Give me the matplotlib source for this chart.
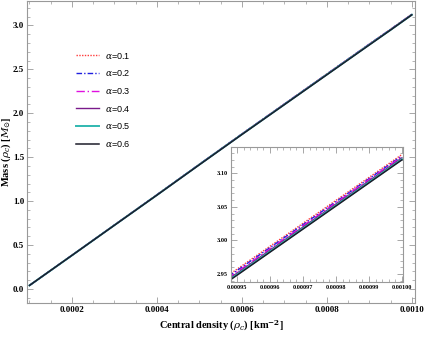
import matplotlib
matplotlib.use("Agg")
import matplotlib.pyplot as plt
from matplotlib.ticker import MultipleLocator, AutoMinorLocator, FormatStrFormatter

# central density [km^-2]
density = [0.0001, 0.0002, 0.0003, 0.0004, 0.0005, 0.0006, 0.0007,
           0.0008, 0.0009, 0.00095, 0.001]

# mass [M_sun] for each alpha
mass_a01 = [0.040, 0.384, 0.729, 1.073, 1.420, 1.765, 2.107, 2.448, 2.789, 2.957, 3.128]
mass_a02 = [0.040, 0.383, 0.728, 1.072, 1.419, 1.764, 2.105, 2.446, 2.787, 2.955, 3.126]
mass_a03 = [0.040, 0.383, 0.727, 1.071, 1.418, 1.763, 2.104, 2.445, 2.785, 2.953, 3.125]
mass_a04 = [0.040, 0.383, 0.727, 1.070, 1.417, 1.761, 2.102, 2.443, 2.783, 2.951, 3.123]
mass_a05 = [0.040, 0.382, 0.726, 1.069, 1.416, 1.760, 2.100, 2.441, 2.781, 2.949, 3.121]
mass_a06 = [0.040, 0.382, 0.725, 1.068, 1.414, 1.758, 2.098, 2.438, 2.778, 2.948, 3.120]

labels = [r"$\alpha$=0.1", r"$\alpha$=0.2", r"$\alpha$=0.3",
          r"$\alpha$=0.4", r"$\alpha$=0.5", r"$\alpha$=0.6"]
series = [mass_a01, mass_a02, mass_a03, mass_a04, mass_a05, mass_a06]
styles = [
    dict(color="#ff3b3b", ls=(0, (1, 1)), lw=1.0),
    dict(color="#1f1fe0", ls=(0, (4, 1.5, 1, 1.5)), lw=1.0),
    dict(color="#e010e0", ls=(0, (6, 2, 1, 2)), lw=1.0),
    dict(color="#7a1a8a", ls="-", lw=1.0),
    dict(color="#30b8b0", ls="-", lw=1.4),
    dict(color="#1c1c2a", ls="-", lw=1.1),
]

plt.rcParams["mathtext.fontset"] = "dejavuserif"
serif = "Liberation Serif"
frame = "#999999"

fig = plt.figure(figsize=(4.25, 3.38), dpi=100)
ax = fig.add_axes([0.0635, 0.1036, 0.9125, 0.894])

for m, lab, st in zip(series, labels, styles):
    ax.plot(density, m, label=lab, **st)

ax.set_xlim(0.0000941, 0.001007)
ax.set_ylim(-0.16, 3.28)
ax.xaxis.set_major_locator(MultipleLocator(0.0002))
ax.xaxis.set_minor_locator(AutoMinorLocator(4))
ax.yaxis.set_major_locator(MultipleLocator(0.5))
ax.yaxis.set_minor_locator(AutoMinorLocator(5))
ax.xaxis.set_major_formatter(FormatStrFormatter("%.4f"))
ax.yaxis.set_major_formatter(FormatStrFormatter("%.1f"))


def style_axes(a, size):
    for sp in a.spines.values():
        sp.set_color(frame)
        sp.set_linewidth(0.8)
    a.tick_params(which="both", direction="in", top=True, right=True,
                  color=frame, labelsize=size, pad=2)
    a.tick_params(which="major", length=4, width=0.6)
    a.tick_params(which="minor", length=2, width=0.5)
    for t in a.get_xticklabels() + a.get_yticklabels():
        t.set_fontfamily(serif)
        t.set_fontweight("bold")


style_axes(ax, 6.5)

ax.set_xlabel(r"Central density ($\rho_c$) [km$^{\mathbf{-2}}$]",
              fontfamily=serif, fontweight="bold", fontsize=7.5, labelpad=4)
ax.set_ylabel(r"Mass ($\rho_c$) [$M_{\odot}$]",
              fontfamily=serif, fontweight="bold", fontsize=7.5)
ax.yaxis.set_label_coords(-0.037, 0.5)

leg = ax.legend(loc="upper left", bbox_to_anchor=(0.105, 0.862), frameon=False,
                handlelength=2.6, labelspacing=0.85, handletextpad=0.6,
                prop={"family": "Liberation Sans", "size": 6.5})

# inset
ins = fig.add_axes([0.5435, 0.1657, 0.4045, 0.399])
for m, st in zip(series, styles):
    ins.plot(density, m, **st)
ins.set_xlim(0.0009482, 0.0010003)
ins.set_ylim(2.938, 3.139)
ins.xaxis.set_major_locator(MultipleLocator(0.00001))
ins.xaxis.set_minor_locator(AutoMinorLocator(5))
ins.yaxis.set_major_locator(MultipleLocator(0.05))
ins.yaxis.set_minor_locator(AutoMinorLocator(5))
ins.xaxis.set_major_formatter(FormatStrFormatter("%.5f"))
ins.yaxis.set_major_formatter(FormatStrFormatter("%.2f"))
style_axes(ins, 4.5)

fig.savefig("out.png", dpi=100)
